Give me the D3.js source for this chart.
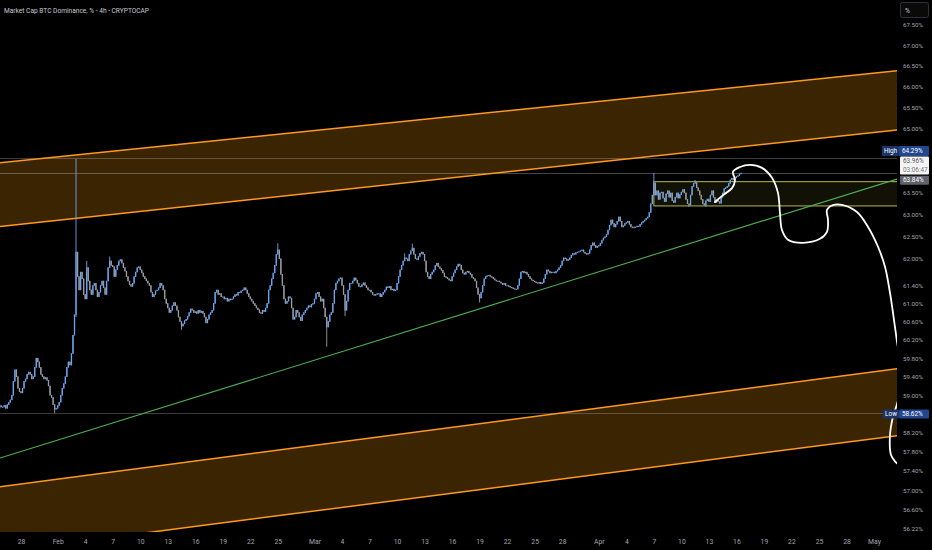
<!DOCTYPE html>
<html><head><meta charset="utf-8">
<script src="https://cdn.jsdelivr.net/npm/d3@7"></script>
<style>html,body{margin:0;padding:0;background:#000;overflow:hidden}svg{display:block}</style>
</head><body><svg id="chart" width="932" height="550"></svg>
<script>
const title = "Market Cap BTC Dominance, % - 4h - CRYPTOCAP";
const candleStart = "2025-01-25T16:00";
const candleHours = 4;
const firstOpen = 58.72;
const closes = [
  58.78, 58.75,
  58.75, 58.78, 58.72, 58.80, 58.85, 58.90,
  59.00, 59.30, 59.55, 59.40, 59.15, 59.08,
  59.05, 59.15, 59.30, 59.35, 59.45, 59.50,
  59.45, 59.35, 59.40, 59.60, 59.80, 59.72,
  59.60, 59.45, 59.40, 59.35, 59.38, 59.32,
  59.20, 59.00, 58.95, 58.80, 58.70, 58.72,
  58.78, 58.85, 59.00, 59.15, 59.25, 59.40,
  59.60, 59.72, 59.65, 59.90, 60.30, 60.75,
  62.15, 61.60, 61.30, 61.70, 61.55, 61.20,
  61.10, 61.80, 61.50, 61.30, 61.20, 61.40,
  61.45, 61.30, 61.15, 61.25, 61.40, 61.50,
  61.35, 61.20, 61.50, 61.80, 61.95, 61.85,
  61.82, 61.60, 61.75, 61.85, 61.95, 61.98,
  61.90, 61.80, 61.72, 61.60, 61.50, 61.42,
  61.38, 61.45, 61.60, 61.70, 61.80, 61.82,
  61.75, 61.68, 61.60, 61.55, 61.50, 61.45,
  61.40, 61.25, 61.15, 61.20, 61.28, 61.30,
  61.35, 61.45, 61.40, 61.30, 61.10, 61.00,
  60.90, 60.80, 60.85, 60.95, 61.02, 60.95,
  60.85, 60.70, 60.60, 60.50, 60.55, 60.62,
  60.65, 60.72, 60.80, 60.88, 60.85, 60.80,
  60.82, 60.78, 60.85, 60.80, 60.83, 60.78,
  60.70, 60.57, 60.65, 60.75, 60.80, 60.85,
  61.00, 61.25, 61.30, 61.20, 61.22, 61.15,
  61.15, 61.10, 61.12, 61.05, 61.10, 61.08,
  61.10, 61.15, 61.20, 61.18, 61.25, 61.24,
  61.28, 61.30, 61.35, 61.30, 61.22, 61.15,
  61.10, 61.05, 61.00, 60.95, 60.90, 60.86,
  60.80, 60.78, 60.85, 60.82, 60.90, 61.00,
  61.30, 61.40, 61.55, 61.68, 61.85, 62.10,
  62.20, 62.00, 61.65, 61.40, 61.10, 61.00,
  61.05, 61.15, 61.12, 60.90, 60.65, 60.70,
  60.85, 60.80, 60.70, 60.62, 60.75, 60.80,
  60.85, 60.90, 60.95, 60.92, 60.98, 61.00,
  61.10, 61.22, 61.25, 61.15, 61.05, 61.10,
  60.90, 60.70, 60.48, 60.60, 60.75, 60.80,
  61.00, 61.30, 61.45, 61.50, 61.55, 61.57,
  61.40, 61.20, 60.85, 61.05, 61.30, 61.45,
  61.45, 61.50, 61.57, 61.52, 61.45, 61.38,
  61.37, 61.42, 61.46, 61.40, 61.35, 61.30,
  61.30, 61.25, 61.20, 61.18, 61.20, 61.22,
  61.22, 61.15, 61.20, 61.25, 61.30, 61.37,
  61.35, 61.38, 61.30, 61.32, 61.28, 61.30,
  61.45, 61.60, 61.75, 61.85, 61.95, 62.02,
  62.00, 61.95, 62.10, 62.18, 62.24, 62.10,
  62.00, 61.98, 62.05, 62.12, 62.15, 62.10,
  61.95, 61.70, 61.60, 61.55, 61.65, 61.70,
  61.75, 61.85, 61.90, 61.82, 61.78, 61.74,
  61.68, 61.60, 61.58, 61.55, 61.52, 61.50,
  61.60, 61.68, 61.75, 61.82, 61.88, 61.85,
  61.75, 61.68, 61.65, 61.70, 61.72, 61.68,
  61.65, 61.58, 61.55, 61.50, 61.35, 61.20,
  61.12, 61.25, 61.40, 61.55, 61.60, 61.62,
  61.63, 61.60, 61.58, 61.55, 61.52, 61.50,
  61.50, 61.48, 61.45, 61.42, 61.45, 61.40,
  61.40, 61.38, 61.36, 61.35, 61.33, 61.32,
  61.32, 61.40, 61.55, 61.70, 61.72, 61.68,
  61.70, 61.65, 61.60, 61.55, 61.52, 61.50,
  61.48, 61.46, 61.45, 61.47, 61.44, 61.46,
  61.55, 61.65, 61.75, 61.72, 61.68, 61.70,
  61.70, 61.68, 61.72, 61.75, 61.80, 61.85,
  61.95, 62.02, 62.00, 61.96, 61.98, 62.02,
  62.08, 62.12, 62.10, 62.14, 62.15, 62.16,
  62.18, 62.20, 62.15, 62.12, 62.10, 62.12,
  62.20, 62.30, 62.36, 62.30, 62.25, 62.28,
  62.30, 62.35, 62.42, 62.47, 62.50, 62.55,
  62.65, 62.76, 62.88, 62.80, 62.72, 62.78,
  62.85, 62.95, 62.85, 62.72, 62.75, 62.80,
  62.82, 62.85, 62.78, 62.72, 62.70, 62.72,
  62.72, 62.74, 62.73, 62.78, 62.82, 62.85,
  62.88, 62.92, 62.95, 63.05, 63.25, 63.45,
  63.73, 63.45, 63.55, 63.35, 63.50, 63.52,
  63.38, 63.30, 63.48, 63.55, 63.40, 63.50,
  63.32, 63.28, 63.40, 63.50, 63.38, 63.46,
  63.52, 63.58, 63.50, 63.35, 63.25, 63.22,
  63.45, 63.65, 63.72, 63.74, 63.62, 63.55,
  63.45, 63.35, 63.25, 63.22, 63.32, 63.36,
  63.30, 63.45, 63.55, 63.40, 63.28, 63.34,
  63.30, 63.26, 63.40, 63.50, 63.60, 63.62,
  63.65, 63.72, 63.80, 63.84, 63.80, 63.85,
  63.88, 63.90, 63.94, 63.96
];
const wickHighs = [["2025-02-03T00:00", 64.29], ["2025-04-07T00:00", 63.96], ["2025-02-25T00:00", 62.35], ["2025-03-11T16:00", 62.34], ["2025-02-04T04:00", 61.95], ["2025-03-10T20:00", 62.12], ["2025-04-11T12:00", 63.80], ["2025-02-06T16:00", 62.05]];
const wickLows = [["2025-01-31T16:00", 58.62], ["2025-03-02T08:00", 60.05], ["2025-03-04T08:00", 60.72], ["2025-03-19T00:00", 61.02], ["2025-02-03T00:00", 60.70], ["2025-02-14T12:00", 60.42], ["2025-04-10T20:00", 63.18], ["2025-04-12T16:00", 63.18]];

const xTickDates = ["2025-01-28","2025-02-01","2025-02-04","2025-02-07","2025-02-10","2025-02-13","2025-02-16","2025-02-19","2025-02-22","2025-02-25","2025-03-01","2025-03-04","2025-03-07","2025-03-10","2025-03-13","2025-03-16","2025-03-19","2025-03-22","2025-03-25","2025-03-28","2025-04-01","2025-04-04","2025-04-07","2025-04-10","2025-04-13","2025-04-16","2025-04-19","2025-04-22","2025-04-25","2025-04-28","2025-05-01"];
const xTickLabels = ["28","Feb","4","7","10","13","16","19","22","25","Mar","4","7","10","13","16","19","22","25","28","Apr","4","7","10","13","16","19","22","25","28","May"];
const yTickValues = [67.5,67,66.5,66,65.5,65,63.5,63,62.5,62,61.4,61,60.6,60.2,59.8,59.4,59,58.2,57.8,57.4,57,56.6,56.22];

const highValue = 64.29, lowValue = 58.62, lastValue = 63.96, countdown = "03:06:47", boxLabelValue = 63.84;

const viewStart = "2025-01-25T17:03", viewEnd = "2025-05-03T12:15";
const priceMin = 56.14, priceMax = 68.11;

const upperChannelTop = [["2025-01-25T17:03", 64.20], ["2025-05-03T12:15", 66.38]];
const upperChannelBottom = [["2025-01-25T17:03", 62.73], ["2025-05-03T12:15", 64.97]];
const lowerChannelTop = [["2025-01-25T17:03", 57.07], ["2025-05-03T12:15", 59.57]];
const lowerChannelBottom = [["2025-01-25T17:03", 55.74], ["2025-05-03T12:15", 58.14]];
const greenTrend = [["2025-01-25T17:03", 57.67], ["2025-05-03T12:15", 63.82]];
const rangeBox = {start: "2025-04-07T00:00", end: "2025-05-10T00:00", top: 63.76, bottom: 63.20};

const brushPoints = [
  ["2025-04-13T16:00", 63.29], ["2025-04-14T13:00", 63.45], ["2025-04-15T12:30", 63.61],
  ["2025-04-15T20:20", 63.80], ["2025-04-15T15:00", 63.99], ["2025-04-16T09:20", 64.10],
  ["2025-04-17T11:30", 64.15], ["2025-04-18T19:00", 64.08], ["2025-04-19T21:00", 63.85],
  ["2025-04-20T12:45", 63.50], ["2025-04-20T18:00", 63.04], ["2025-04-20T23:15", 62.65],
  ["2025-04-21T15:00", 62.43], ["2025-04-23T06:15", 62.36], ["2025-04-25T02:40", 62.45],
  ["2025-04-25T21:00", 62.61], ["2025-04-25T23:45", 62.88], ["2025-04-25T21:00", 63.11],
  ["2025-04-26T12:45", 63.22], ["2025-04-27T15:00", 63.22], ["2025-04-29T03:30", 63.06],
  ["2025-04-30T08:30", 62.72], ["2025-05-01T10:30", 62.27], ["2025-05-02T04:50", 61.82],
  ["2025-05-02T17:50", 61.24], ["2025-05-03T04:20", 60.64], ["2025-05-03T12:15", 60.16],
  ["2025-05-04T00:00", 59.50], ["2025-05-03T14:00", 58.86], ["2025-05-03T01:40", 58.54],
  ["2025-05-02T17:50", 58.14], ["2025-05-02T20:25", 57.74], ["2025-05-03T07:00", 57.60],
  ["2025-05-03T17:00", 57.53]
];

// ---------- drawing ----------
const W = 932, H = 550, plotW = 897, plotH = 532;
const parse = s => new Date(s.length === 10 ? s + "T00:00:00Z" : s + ":00Z");
const svg = d3.select("#chart");
svg.append("rect").attr("width", W).attr("height", H).attr("fill", "#000");

const x = d3.scaleUtc().domain([parse(viewStart), parse(viewEnd)]).range([0, plotW]);
const y = d3.scaleLog().domain([priceMin, priceMax]).range([plotH, 0]);

svg.append("defs").append("clipPath").attr("id", "plotClip")
  .append("rect").attr("x", 0).attr("y", 0).attr("width", plotW).attr("height", plotH);
const plot = svg.append("g").attr("clip-path", "url(#plotClip)");

const pt = d => [x(parse(d[0])), y(d[1])];
const band = (top, bot) => {
  const pts = top.map(pt).concat(bot.slice().reverse().map(pt));
  return "M" + pts.map(p => p.join(",")).join("L") + "Z";
};
const lineGen = d3.line().x(d => x(parse(d[0]))).y(d => y(d[1]));

// channel fills
const orangeFill = "rgba(255,155,10,0.23)";
plot.append("path").attr("d", band(upperChannelTop, upperChannelBottom)).attr("fill", orangeFill);
plot.append("path").attr("d", band(lowerChannelTop, lowerChannelBottom)).attr("fill", orangeFill);

// range box
plot.append("rect")
  .attr("x", x(parse(rangeBox.start))).attr("y", y(rangeBox.top))
  .attr("width", x(parse(rangeBox.end)) - x(parse(rangeBox.start)))
  .attr("height", y(rangeBox.bottom) - y(rangeBox.top))
  .attr("fill", "rgba(190,190,60,0.09)").attr("stroke", "#b8b84a").attr("stroke-width", 1);

// high / low / last horizontal lines
[[highValue, "rgba(200,200,200,0.30)"], [lastValue, "rgba(200,200,200,0.35)"], [lowValue, "rgba(200,200,200,0.30)"]].forEach(([v, c]) => {
  plot.append("line").attr("x1", 0).attr("x2", plotW).attr("y1", y(v)).attr("y2", y(v))
    .attr("stroke", c).attr("stroke-width", 1).attr("shape-rendering", "crispEdges");
});

// channel lines
[upperChannelTop, upperChannelBottom, lowerChannelTop, lowerChannelBottom].forEach(l => {
  plot.append("path").attr("d", lineGen(l)).attr("fill", "none").attr("stroke", "#ff9a1f").attr("stroke-width", 1.5);
});
plot.append("path").attr("d", lineGen(greenTrend)).attr("fill", "none").attr("stroke", "#4caf50").attr("stroke-width", 1.1);

// candles
const t0 = parse(candleStart).getTime();
const hiMap = new Map(wickHighs.map(d => [parse(d[0]).getTime(), d[1]]));
const loMap = new Map(wickLows.map(d => [parse(d[0]).getTime(), d[1]]));
const candles = closes.map((c, i) => {
  const t = t0 + i * candleHours * 3600e3;
  const o = i === 0 ? firstOpen : closes[i - 1];
  return {t: new Date(t), o, c,
    h: Math.max(o, c, hiMap.get(t) || 0),
    l: Math.min(o, c, loMap.get(t) || Infinity)};
});
const step = x(new Date(t0 + candleHours * 3600e3)) - x(new Date(t0));
const bw = Math.max(1, step * 0.85);
const upC = "#6aa5f0", dnC = "#9a9da6";
const cg = plot.append("g");
cg.selectAll("line").data(candles).join("line")
  .attr("x1", d => x(d.t)).attr("x2", d => x(d.t))
  .attr("y1", d => y(d.h)).attr("y2", d => y(d.l))
  .attr("stroke", d => d.c >= d.o ? upC : dnC).attr("stroke-width", 0.9);
cg.selectAll("rect").data(candles).join("rect")
  .attr("x", d => x(d.t) - bw / 2).attr("width", bw)
  .attr("y", d => y(Math.max(d.o, d.c)) - 0.3)
  .attr("height", d => Math.max(1.2, Math.abs(y(d.o) - y(d.c)) + 0.6))
  .attr("fill", d => d.c >= d.o ? upC : dnC);

// brush drawing
plot.append("path")
  .attr("d", d3.line().x(d => x(parse(d[0]))).y(d => y(d[1])).curve(d3.curveCatmullRom.alpha(0.5))(brushPoints))
  .attr("fill", "none").attr("stroke", "#ffffff").attr("stroke-width", 1.8)
  .attr("stroke-linecap", "round").attr("stroke-linejoin", "round");

const fontF = "Roboto, 'Liberation Sans', sans-serif";
const axisC = "#a3a6af";

// title
svg.append("text").attr("x", 4).attr("y", 13).text(title)
  .attr("fill", "#c7cad1").attr("font-family", fontF)
  .attr("font-size", 7.2).attr("textLength", 145).attr("lengthAdjust", "spacingAndGlyphs");

// x axis
const xAxis = d3.axisBottom(x).tickValues(xTickDates.map(parse))
  .tickFormat((d, i) => xTickLabels[i]).tickSize(0).tickPadding(0);
const xg = svg.append("g").attr("transform", `translate(0,${plotH})`).call(xAxis);
xg.select(".domain").remove();
xg.selectAll("text").attr("fill", axisC).attr("font-family", fontF).attr("font-size", 6.8)
  .attr("dy", 0).attr("y", 11.5);

// y axis
const yAxis = d3.axisRight(y).tickValues(yTickValues).tickFormat(d => d.toFixed(2) + "%").tickSize(0).tickPadding(0);
const yg = svg.append("g").attr("transform", `translate(${plotW + 6},0)`).call(yAxis);
yg.select(".domain").remove();
yg.selectAll("text").attr("fill", axisC).attr("font-family", fontF).attr("font-size", 6.2).attr("x", 0);

// % button
svg.append("rect").attr("x", 900.5).attr("y", 2.5).attr("width", 28).attr("height", 15).attr("rx", 2)
  .attr("fill", "#0a0a0a").attr("stroke", "#30333c");
svg.append("text").attr("x", 905).attr("y", 12.5).text("%").attr("fill", "#c7cad1")
  .attr("font-family", fontF).attr("font-size", 6.6);

// price labels
function tag(lx, lw, cy, h, fill, txt, tc, anchorMid) {
  svg.append("rect").attr("x", lx).attr("y", cy - h / 2).attr("width", lw).attr("height", h).attr("fill", fill).attr("rx", 1);
  svg.append("text").attr("x", anchorMid ? lx + lw / 2 : lx + 3).attr("y", cy).attr("dy", "0.35em")
    .attr("text-anchor", anchorMid ? "middle" : "start").text(txt)
    .attr("fill", tc).attr("font-family", fontF).attr("font-size", 6.4);
}
const hy = y(highValue) - 8;
tag(882, 17, hy, 10, "#1b3468", "High", "#ffffff", true);
tag(899, 30, hy, 10, "#22478f", highValue.toFixed(2) + "%", "#ffffff", false);

const ly = y(lowValue) + 1;
tag(883, 16, ly, 9, "#1b3468", "Low", "#ffffff", true);
tag(899, 30, ly, 9, "#22478f", lowValue.toFixed(2) + "%", "#ffffff", false);

const cy = y(lastValue) - 7.5;
svg.append("rect").attr("x", 900).attr("y", cy - 9).attr("width", 29).attr("height", 18).attr("fill", "#f4f4f4").attr("rx", 1);
svg.append("text").attr("x", 903).attr("y", cy - 4.5).attr("dy", "0.35em").text(lastValue.toFixed(2) + "%")
  .attr("fill", "#555").attr("font-family", fontF).attr("font-size", 6.4);
svg.append("text").attr("x", 903).attr("y", cy + 4).attr("dy", "0.35em").text(countdown)
  .attr("fill", "#777").attr("font-family", fontF).attr("font-size", 6.4);

tag(900, 29, y(boxLabelValue) + 2, 9, "#5f626b", boxLabelValue.toFixed(2) + "%", "#ffffff", false);
</script></body></html>
